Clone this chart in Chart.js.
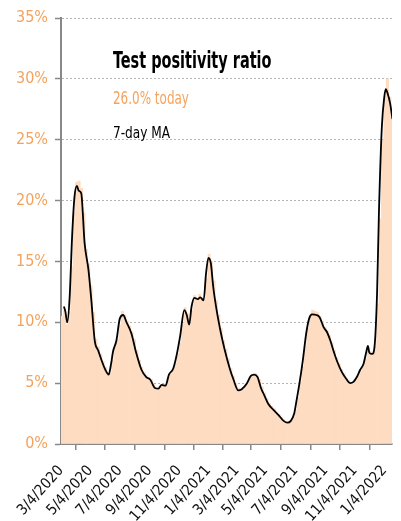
<!DOCTYPE html>
<html>
<head>
<meta charset="utf-8">
<script src="https://cdn.jsdelivr.net/npm/chart.js@4/dist/chart.umd.min.js"></script>
<style>
  body { margin: 0; background: #fff; }
  #wrap { position: relative; width: 401px; height: 521px; overflow: hidden; }
  .lbl { position: absolute; left: 113px; white-space: nowrap; font-family: "Liberation Sans Narrow", "DejaVu Sans Condensed", sans-serif; line-height: 1; transform-origin: 0 0; }
  #title { top: 49px; font-size: 23px; font-weight: bold; color: #000; transform: scaleX(0.7); }
  #today { top: 89px; font-size: 18px; color: #f4a35e; transform: scaleX(0.74); }
  #ma { top: 126px; font-size: 15px; color: #000; transform: scaleX(0.9); }
</style>
</head>
<body>
<div id="wrap">
  <canvas id="chart" width="401" height="521"></canvas>
  <div class="lbl" id="title">Test positivity ratio</div>
  <div class="lbl" id="today">26.0% today</div>
  <div class="lbl" id="ma">7-day MA</div>
</div>
<script>
// days counted from 3/4/2020
var tickDays = [0, 61, 122, 184, 245, 306, 365, 424, 487, 549, 610, 671];
var tickLabels = ['3/4/2020', '5/4/2020', '7/4/2020', '9/4/2020', '11/4/2020', '1/4/2021',
  '3/4/2021', '5/4/2021', '7/4/2021', '9/4/2021', '11/4/2021', '1/4/2022'];

// daily positivity, one value per 5-day block
var barStep = 5;
var barVals = [10.5, 11.0, 9.8, 10.8, 14.5, 19.0, 21.5, 21.6, 21.0, 19.0,
  16.0, 14.8, 13.0, 10.8, 8.6, 8.0, 7.4, 6.8, 6.3, 5.9,
  5.8, 6.9, 8.0, 8.6, 9.8, 10.9, 10.6, 10.1, 9.7, 9.2,
  8.6, 7.7, 6.9, 6.3, 5.9, 5.6, 5.4, 5.3, 4.9, 4.6,
  4.5, 4.8, 4.9, 4.8, 5.4, 5.8, 6.1, 6.6, 7.4, 8.3,
  9.8, 11.2, 10.7, 9.9, 11.0, 12.2, 12.0, 12.3, 12.0, 11.9,
  13.6, 15.6, 15.0, 13.4, 11.8, 10.6, 9.5, 8.5, 7.8, 7.0,
  6.2, 5.6, 5.0, 4.6, 4.3, 4.5, 4.8, 5.0, 5.5, 5.7,
  5.8, 5.6, 5.3, 4.7, 4.2, 3.7, 3.3, 3.1, 2.9, 2.6,
  2.4, 2.2, 2.0, 1.8, 1.7, 1.9, 2.2, 2.8, 3.8, 5.1,
  6.4, 8.0, 9.5, 10.6, 11.0, 10.9, 10.8, 10.5, 10.1, 9.6,
  9.3, 8.9, 8.3, 7.7, 7.1, 6.6, 6.1, 5.8, 5.4, 5.2,
  5.0, 5.1, 5.3, 5.6, 6.0, 6.4, 7.0, 7.8, 7.6, 7.3,
  8.0, 11.5, 18.5, 25.0, 28.5, 30.0, 28.5, 27.5, 26.0];

// 7-day moving average
var maDays = [6, 9, 13, 18, 23, 28, 33, 37, 42, 49, 57, 63, 70, 77, 84, 92, 99, 104, 108, 115,
  122, 129, 136, 146, 156, 167, 177, 185, 195, 202, 209, 217, 224, 233, 240, 247, 256, 261, 266, 271,
  277, 284, 289, 296, 301, 306, 311, 316, 323, 332, 340, 351, 358, 368, 375, 386, 394, 401, 408, 415,
  422, 430, 441, 451, 462, 470, 477, 484, 489, 495, 502, 509, 515, 521, 530, 537, 545, 552, 559, 566,
  573, 583, 593, 600, 607, 614, 621, 628, 633, 637, 640, 646, 651, 656, 660, 666, 671, 674, 678, 683, 688];
var maVals = [11.3, 10.9, 10.0, 12.1, 17.0, 20.3, 21.2, 20.8, 20.6, 16.5, 14.3, 11.8, 8.5, 7.7, 6.9, 6.1, 5.7, 6.6, 7.6, 8.5,
  10.3, 10.6, 10.0, 9.1, 7.5, 6.1, 5.5, 5.3, 4.6, 4.55, 4.85, 4.8, 5.7, 6.2, 7.3, 8.8, 11.0, 10.6, 9.8, 11.3,
  12.0, 11.9, 12.05, 11.8, 14.0, 15.3, 14.85, 12.9, 11.0, 9.1, 7.7, 6.1, 5.3, 4.4, 4.5, 5.0, 5.6, 5.7, 5.5, 4.6,
  4.0, 3.3, 2.8, 2.4, 1.9, 1.75, 1.9, 2.5, 3.6, 5.0, 6.9, 9.1, 10.3, 10.65, 10.6, 10.4, 9.6, 9.2, 8.5, 7.6,
  6.8, 5.9, 5.3, 5.0, 5.1, 5.5, 6.1, 6.6, 7.45, 8.05, 7.5, 7.4, 8.1, 12.4, 19.2, 26.1, 28.5, 29.15, 28.8, 28.0, 26.7];

var FONT = '"Liberation Sans Narrow", "DejaVu Sans Condensed", sans-serif';

var barData = barVals.map(function(v, i) { return { x: i * barStep + barStep / 2, y: v }; });
var maData = maVals.map(function(v, i) { return { x: maDays[i], y: v }; });

var ctx = document.getElementById('chart').getContext('2d');
var chart = new Chart(ctx, {
  data: {
    datasets: [{
      type: 'line',
      data: maData,
      borderColor: '#000',
      borderWidth: 1.8,
      pointRadius: 0,
      cubicInterpolationMode: 'monotone',
      order: 0
    }, {
      type: 'bar',
      data: barData,
      backgroundColor: '#fddcc2',
      borderWidth: 0,
      barPercentage: 1,
      categoryPercentage: 1,
      order: 1
    }]
  },
  options: {
    responsive: false,
    animation: false,
    layout: { padding: { top: 18, right: 9, left: 0, bottom: 0 } },
    plugins: { legend: { display: false }, tooltip: { enabled: false } },
    scales: {
      x: {
        type: 'linear',
        min: 0,
        max: 687,
        offset: false,
        afterBuildTicks: function(scale) {
          scale.ticks = tickDays.map(function(d) { return { value: d }; });
        },
        afterFit: function(scale) {
          scale.height = 77;
          scale.paddingLeft = 0;
          scale.paddingRight = 0;
        },
        ticks: {
          autoSkip: false,
          minRotation: 48,
          maxRotation: 48,
          color: '#111',
          font: { family: FONT, size: 15 },
          padding: 12,
          callback: function(v) { return tickLabels[tickDays.indexOf(v)]; }
        },
        grid: { drawOnChartArea: false, drawTicks: true, tickLength: 6, tickColor: '#888', lineWidth: 1.5 },
        border: { color: '#888', width: 2 }
      },
      y: {
        min: 0,
        max: 35,
        afterFit: function(scale) { scale.width = 61; },
        ticks: {
          stepSize: 5,
          color: '#f4a35e',
          font: { family: FONT, size: 16 },
          padding: 7,
          callback: function(v) { return v + '%'; }
        },
        grid: { color: '#b5b5b5', lineWidth: 1, tickLength: 6, tickColor: '#888', tickWidth: 1.5 },
        border: { color: '#888', width: 2, dash: [2, 2] }
      }
    }
  }
});
</script>
</body>
</html>
